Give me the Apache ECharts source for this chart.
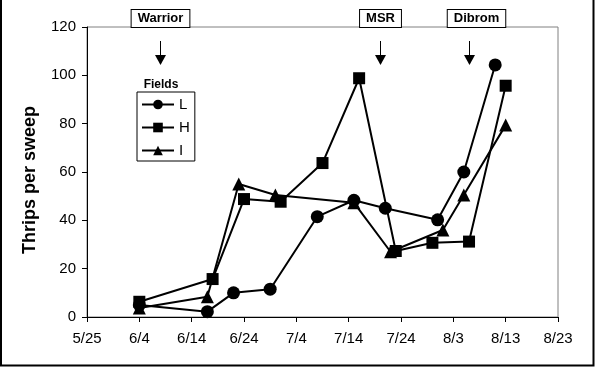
<!DOCTYPE html>
<html>
<head>
<meta charset="utf-8">
<script src="https://cdn.jsdelivr.net/npm/echarts@6/dist/echarts.min.js"></script>
<style>
html,body{margin:0;padding:0;background:#fff;}
#chart{width:595px;height:367px;}
</style>
</head>
<body>
<div id="chart"></div>
<script>
// ---- data ----
var startDate = '5/25';
var xTickLabels = ['5/25','6/4','6/14','6/24','7/4','7/14','7/24','8/3','8/13','8/23'];
var yTickLabels = [0,20,40,60,80,100,120];

var datesL  = ['6/4','6/17','6/22','6/29','7/8','7/15','7/21','7/31','8/5','8/11'];
var valuesL = [5, 2.2, 10, 11.5, 41.5, 48.3, 45, 40.2, 60, 104.3];

var datesH  = ['6/4','6/18','6/24','7/1','7/9','7/16','7/23','7/30','8/6','8/13'];
var valuesH = [6.3, 15.7, 48.8, 47.7, 63.7, 98.8, 27.3, 30.7, 31.2, 95.7];

var datesI  = ['6/4','6/17','6/23','6/30','7/15','7/22','8/1','8/5','8/13'];
var valuesI = [3.7, 8.4, 55, 50.5, 47.3, 27, 36, 50.5, 79.4];

var annotDates  = ['6/8','7/20','8/6'];
var annotLabels = ['Warrior','MSR','Dibrom'];

// ---- helpers ----
function dayOf(md){
  var p = md.split('/');
  return Date.UTC(2001, +p[0]-1, +p[1]) / 86400000;
}
var day0 = dayOf(startDate);
function offset(md){ return dayOf(md) - day0; }
function pairs(dates, vals){ return dates.map(function(d,i){ return [offset(d), vals[i]]; }); }

var chart = echarts.init(document.getElementById('chart'), null, {renderer:'canvas'});

var FONT = 'Liberation Sans, Arial, sans-serif';
var common = {
  type:'line',
  lineStyle:{color:'#000', width:2},
  itemStyle:{color:'#000', borderWidth:0},
  color:'#000',
  animation:false
};

var option = {
  backgroundColor:'#fff',
  animation:false,
  grid:{left:87, right:37, top:27, bottom:50, show:true, borderColor:'#808080', borderWidth:1, backgroundColor:'transparent'},
  xAxis:{
    type:'value', min:0, max:90, interval:10,
    axisLine:{show:true, lineStyle:{color:'#000', width:1}},
    axisTick:{show:true, inside:false, length:5, lineStyle:{color:'#000'}},
    splitLine:{show:false},
    axisLabel:{color:'#000', fontSize:15, fontFamily:FONT, margin:14,
      formatter:function(v){ return xTickLabels[Math.round(v/10)]; }}
  },
  yAxis:{
    type:'value', min:0, max:120, interval:20,
    axisLine:{show:true, lineStyle:{color:'#000', width:1}},
    axisTick:{show:true, inside:false, length:5, lineStyle:{color:'#000'}},
    splitLine:{show:false},
    axisLabel:{color:'#000', fontSize:15, fontFamily:FONT, margin:11,
      formatter:function(v){ return yTickLabels[Math.round(v/20)]; }}
  },
  legend:{
    orient:'vertical', left:137, top:92,
    padding:[5,5,3,4],
    borderColor:'#000', borderWidth:1,
    itemWidth:32, itemHeight:12, itemGap:8,
    textStyle:{color:'#000', fontSize:15, fontFamily:FONT, lineHeight:12},
    data:['L','H','I']
  },
  series:[
    Object.assign({name:'L', symbol:'circle', symbolSize:13, data:pairs(datesL, valuesL)}, common),
    Object.assign({name:'H', symbol:'rect', symbolSize:12, data:pairs(datesH, valuesH)}, common),
    Object.assign({name:'I', symbol:'triangle', symbolSize:13, data:pairs(datesI, valuesI)}, common)
  ],
  graphic:[
    {type:'polyline', shape:{points:[[1,0],[1,365.5],[593.5,365.5],[593.5,0]]}, style:{fill:'none', stroke:'#000', lineWidth:2}, z:100},
    {type:'text', x:161, y:85, style:{text:'Fields', fill:'#000', font:'bold 12px '+FONT, align:'center', verticalAlign:'middle'}},
    {type:'text', x:30, y:180, rotation:Math.PI/2,
      style:{text:'Thrips per sweep', fill:'#000', font:'bold 18px '+FONT, align:'center', verticalAlign:'middle'}}
  ]
};
chart.setOption(option);

// annotations (arrows + boxed labels) placed via axis scale
var labelShift = [0, 0, 7];
var g = option.graphic.slice();
annotDates.forEach(function(d, i){
  var px = chart.convertToPixel({xAxisIndex:0}, offset(d));
  var x = Math.round(px) + 0.5;
  g.push({type:'line', shape:{x1:x, y1:41, x2:x, y2:57}, style:{stroke:'#000', lineWidth:1}, z:50});
  g.push({type:'polygon', shape:{points:[[x-5.5,55],[x+5.5,55],[x,65]]}, style:{fill:'#000'}, z:50});
  g.push({type:'text', x:x + labelShift[i], y:10, z:50,
    style:{text:annotLabels[i], fill:'#000', font:'bold 13px '+FONT,
      align:'center', verticalAlign:'top',
      backgroundColor:'#fff', borderColor:'#000', borderWidth:1, padding:[2,6,2,6]}});
});
chart.setOption({graphic:g});
</script>
</body>
</html>
